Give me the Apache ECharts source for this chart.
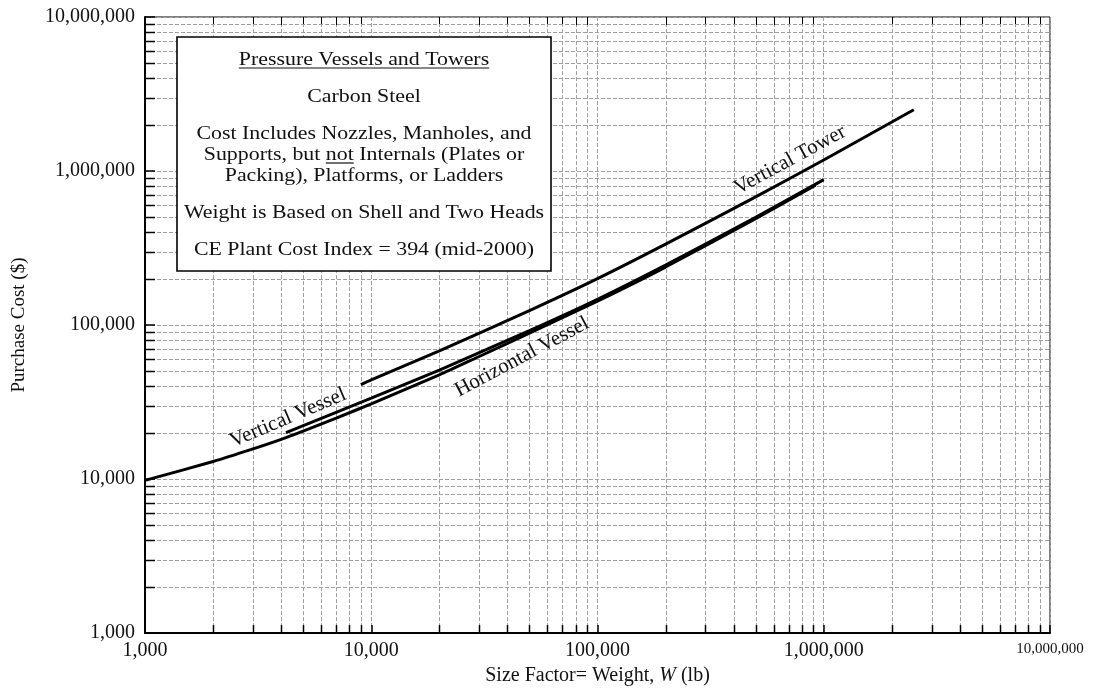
<!DOCTYPE html>
<html>
<head>
<meta charset="utf-8">
<script src="https://cdn.jsdelivr.net/npm/echarts@6.0.0/dist/echarts.min.js"></script>
<style>
html,body{margin:0;padding:0;background:#fff;}
#chart{width:1094px;height:691px;}
</style>
</head>
<body>
<div id="chart"></div>
<script>
// ---- data ----
const towerW = [9000, 10000, 20000, 50000, 100000, 200000, 500000, 1000000, 2500000];
const towerC = [41000, 44000, 68000, 124000, 200000, 335000, 680000, 1180000, 2500000];

const vertW = [4200, 10000, 20000, 50000, 100000, 200000, 500000, 1000000];
const vertC = [20000, 33500, 51000, 92000, 147000, 245000, 500000, 880000];

const horizW = [1000, 2000, 3000, 4200, 7000, 10000, 20000, 30000, 50000, 100000, 200000, 500000, 920000];
const horizC = [9800, 13000, 15700, 18600, 24900, 30800, 47500, 62500, 88500, 143000, 238000, 490000, 810000];

// log-paper minor lines (2..9 in each decade)
const xMinor = [2000,3000,4000,5000,6000,7000,8000,9000,
  20000,30000,40000,50000,60000,70000,80000,90000,
  200000,300000,400000,500000,600000,700000,800000,900000,
  2000000,3000000,4000000,5000000,6000000,7000000,8000000,9000000];
const yMinor = [2000,3000,4000,5000,6000,7000,8000,9000,
  20000,30000,40000,50000,60000,70000,80000,90000,
  200000,300000,400000,500000,600000,700000,800000,900000,
  2000000,3000000,4000000,5000000,6000000,7000000,8000000,9000000];

const AX_MIN = 1000, AX_MAX = 10000000;

const boxLines = [
  'Pressure Vessels and Towers',
  'Carbon Steel',
  'Cost Includes Nozzles, Manholes, and',
  'Supports, but not Internals (Plates or',
  'Packing), Platforms, or Ladders',
  'Weight is Based on Shell and Two Heads',
  'CE Plant Cost Index = 394 (mid-2000)'
];

// ---- rendering ----
const FONT = '"Liberation Serif", "Times New Roman", serif';
const chart = echarts.init(document.getElementById('chart'));

function fmt(v){
  return String(Math.round(v)).replace(/\B(?=(\d{3})+(?!\d))/g, ',');
}
const GRID_COLOR = '#a0a0a0';
const crisp = x => Math.round(x) + 0.5;

function vGrid(params, api){
  const v = api.value(0);
  const b = api.coord([v, AX_MIN]);
  const t = api.coord([v, AX_MAX]);
  const x = crisp(b[0]);
  return {type:'group', children:[
    {type:'line', shape:{x1:x,y1:b[1],x2:x,y2:t[1]}, style:{stroke:GRID_COLOR,lineWidth:1,lineDash:[4,2]}},
    {type:'line', shape:{x1:x,y1:b[1],x2:x,y2:b[1]-8}, style:{stroke:'#000',lineWidth:1.5}},
    {type:'line', shape:{x1:x,y1:t[1],x2:x,y2:t[1]+8}, style:{stroke:'#000',lineWidth:1}}
  ]};
}
function hGrid(params, api){
  const v = api.value(1);
  const l = api.coord([AX_MIN, v]);
  const r = api.coord([AX_MAX, v]);
  const y = crisp(l[1]);
  return {type:'group', children:[
    {type:'line', shape:{x1:l[0],y1:y,x2:r[0],y2:y}, style:{stroke:GRID_COLOR,lineWidth:1,lineDash:[4,2]}},
    {type:'line', shape:{x1:l[0],y1:y,x2:l[0]+10,y2:y}, style:{stroke:'#000',lineWidth:1.5}}
  ]};
}

// measure for underlines
const mctx = document.createElement('canvas').getContext('2d');
const BOX_FS = 19, BOX_SX = 1.15;
mctx.font = BOX_FS + 'px ' + FONT;
const mw = s => mctx.measureText(s).width * BOX_SX;

const boxL = 177, boxT = 37, boxW = 374, boxH = 234;
const cx = boxL + boxW/2;
const lineY = [60, 97, 134, 155, 176, 213, 250];

const graphics = [];
graphics.push({type:'rect', z:100, shape:{x:boxL,y:boxT,width:boxW,height:boxH},
  style:{fill:'#fff', stroke:'#000', lineWidth:1.6}});
boxLines.forEach((s,i)=>{
  graphics.push({type:'text', z:101, x:cx, y:lineY[i], scaleX:BOX_SX,
    style:{text:s, fontSize:BOX_FS, fontFamily:FONT, fill:'#111',
      textAlign:'center', textVerticalAlign:'middle', verticalAlign:'middle'}});
});
// heading underline
const hw = mw(boxLines[0]);
graphics.push({type:'line', z:101, shape:{x1:cx-hw/2, y1:lineY[0]+8, x2:cx+hw/2, y2:lineY[0]+8},
  style:{stroke:'#111', lineWidth:1.2}});
// "not" underline
const fullW = mw(boxLines[3]);
const notStart = cx - fullW/2 + mw('Supports, but ');
const notEnd = notStart + mw('not');
graphics.push({type:'line', z:101, shape:{x1:notStart, y1:lineY[3]+8, x2:notEnd, y2:lineY[3]+8},
  style:{stroke:'#111', lineWidth:1.2}});

// curve labels
const curveLabels = [
  {t:'Vertical Vessel', x:288, y:418, r:23},
  {t:'Horizontal Vessel', x:522, y:357, r:28},
  {t:'Vertical Tower', x:790, y:160, r:28.5}
];
curveLabels.forEach(c=>{
  graphics.push({type:'text', z:50, x:c.x, y:c.y, rotation:c.r*Math.PI/180,
    style:{text:c.t, fontSize:21, fontFamily:FONT, fill:'#111',
      textAlign:'center', textVerticalAlign:'middle', verticalAlign:'middle'}});
});

const lineSeries = (name, W, C) => ({
  name, type:'line', z:5, smooth:0.2, showSymbol:false, symbol:'none',
  data: W.map((w,i)=>[w, C[i]]),
  lineStyle:{color:'#000', width:3}, silent:true
});

const option = {
  animation:false,
  backgroundColor:'#fff',
  grid:{left:145, right:44, top:17, bottom:55, show:true, borderColor:'#000', borderWidth:1, backgroundColor:'transparent'},
  xAxis:{
    type:'log', logBase:10, min:AX_MIN, max:AX_MAX,
    name:'Size Factor= Weight, {i|W} (lb)', nameLocation:'middle', nameGap:32,
    nameTextStyle:{fontFamily:FONT, fontSize:20, color:'#111',
      rich:{i:{fontStyle:'italic', fontFamily:FONT, fontSize:20, color:'#111'}}},
    axisLine:{show:true, lineStyle:{color:'#000', width:2}},
    axisTick:{show:true, inside:true, length:8, lineStyle:{color:'#000', width:1.5}},
    axisLabel:{margin:8, fontFamily:FONT, fontSize:20, color:'#111',
      formatter:v => Math.round(v) === 10000000 ? '{s|' + fmt(v) + '}' : fmt(v),
      rich:{s:{fontFamily:FONT, fontSize:15, color:'#111'}}},
    splitLine:{show:true, lineStyle:{color:GRID_COLOR, width:1, type:[4,2]}},
    minorTick:{show:false}, minorSplitLine:{show:false}
  },
  yAxis:{
    type:'log', logBase:10, min:AX_MIN, max:AX_MAX,
    name:'Purchase Cost ($)', nameLocation:'middle', nameGap:116, nameRotate:90,
    nameTextStyle:{fontFamily:FONT, fontSize:19, color:'#111'},
    axisLine:{show:true, lineStyle:{color:'#000', width:2}},
    axisTick:{show:true, inside:true, length:10, lineStyle:{color:'#000', width:1.5}},
    axisLabel:{margin:10, fontFamily:FONT, fontSize:20, color:'#111', formatter:fmt},
    splitLine:{show:true, lineStyle:{color:GRID_COLOR, width:1, type:[4,2]}}
  },
  series:[
    {type:'custom', z:1, silent:true, renderItem:vGrid, data:xMinor.map(v=>[v, AX_MIN]), clip:false},
    {type:'custom', z:1, silent:true, renderItem:hGrid, data:yMinor.map(v=>[AX_MIN, v]), clip:false},
    lineSeries('Vertical Tower', towerW, towerC),
    lineSeries('Vertical Vessel', vertW, vertC),
    lineSeries('Horizontal Vessel', horizW, horizC)
  ],
  graphic:graphics
};
chart.setOption(option);
</script>
</body>
</html>
